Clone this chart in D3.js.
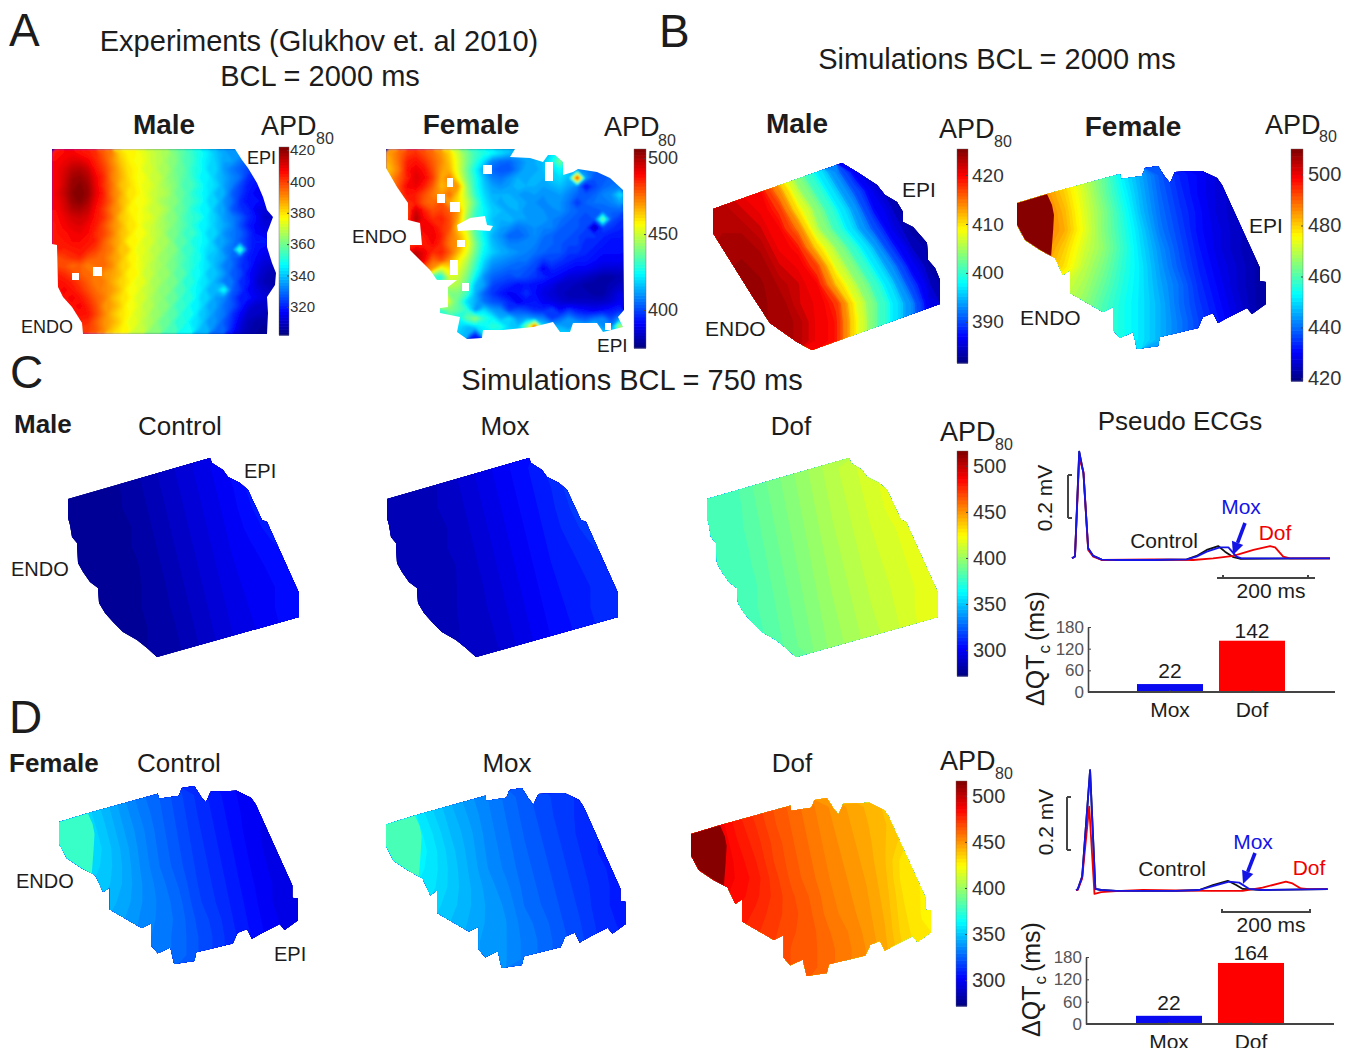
<!DOCTYPE html>
<html><head><meta charset="utf-8">
<script src="https://cdn.jsdelivr.net/npm/d3@7"></script>
<style>html,body{margin:0;padding:0;background:#fff}svg{display:block}text{font-family:"Liberation Sans",Arial,sans-serif;fill:#1c1c1c}</style>
</head><body><svg id="c" width="1351" height="1048"></svg>
<script>
// ---------- DATA: APD80 grids (ms) ----------
const expMale=[
[405,407,408,406,404,402,396,392,382,378,377,374,371,368,366,361,357,353,349,345,340,337,334,336,332,330,330,330],
[407,409,411,411,408,403,398,391,384,379,376,375,370,369,364,362,356,354,348,344,341,336,336,331,327,326,326,326],
[408,411,415,416,413,405,400,393,386,380,378,373,372,367,366,360,358,352,349,343,342,335,331,328,325,322,322,322],
[408,412,418,419,416,408,402,392,387,381,377,376,370,370,364,361,357,353,347,346,340,337,333,330,322,320,318,318],
[407,413,419,421,418,409,401,394,385,382,378,374,373,368,365,362,355,355,350,344,343,336,332,325,320,318,316,316],
[409,414,420,422,419,410,403,393,388,380,379,375,371,369,367,360,358,352,348,345,339,338,328,324,319,316,314,314],
[408,412,419,421,417,408,402,395,386,382,376,376,372,367,364,363,356,354,350,343,342,334,330,322,318,318,316,315],
[407,411,416,417,414,406,400,392,388,379,378,374,370,370,366,359,358,351,347,346,338,336,327,323,321,315,313,313],
[406,409,412,413,411,405,401,394,384,381,377,375,373,368,363,362,355,353,351,344,341,335,332,328,322,318,311,311],
[405,408,410,411,408,404,398,391,387,380,379,373,371,367,365,360,357,352,346,345,340,337,333,326,320,316,313,313],
[405,406,408,409,407,402,399,393,385,382,376,376,370,369,362,361,354,355,349,342,342,334,331,329,323,317,315,315],
[404,405,407,407,405,403,396,390,386,378,378,372,372,366,366,358,358,350,348,345,337,336,332,327,322,319,320,316],
[404,403,404,405,403,400,395,392,384,383,375,374,369,368,363,362,353,353,347,343,341,333,330,358,322,318,316,316],
[398,400,402,403,398,396,394,389,386,379,377,372,371,365,364,359,356,351,349,341,339,336,329,325,320,317,314,314],
[399,398,395,396,392,394,395,391,383,381,376,373,368,367,362,360,354,352,346,344,338,332,330,323,321,315,312,310],
[404,402,399,396,395,393,390,388,385,378,378,371,370,364,365,357,357,349,348,340,340,335,327,326,318,314,310,308],
[406,405,403,400,396,392,392,387,382,380,374,374,367,366,361,361,352,352,345,343,337,331,331,322,320,312,309,307],
[405,408,405,402,398,394,391,389,384,377,376,370,369,363,364,356,355,348,346,339,339,350,328,324,317,314,311,309],
[400,406,408,405,401,396,393,386,381,379,373,372,366,365,359,359,351,351,343,342,335,333,326,320,319,315,313,311],
[396,402,406,408,403,398,390,388,383,376,375,369,368,362,362,354,354,346,345,337,336,330,327,321,314,311,310,310],
[392,398,404,406,405,399,392,385,380,378,372,371,365,364,358,357,349,349,341,339,333,331,323,317,311,310,309,309],
[390,394,400,403,402,396,390,387,382,375,374,368,367,360,360,352,352,344,343,335,334,327,322,314,309,307,306,306],
[390,392,396,400,400,397,391,384,379,377,371,370,363,362,356,355,347,347,339,338,330,329,320,312,308,306,305,305]];
const expFemale=[
[470,476,482,484,480,476,470,462,450,440,432,428,424,420,416,414,414,412,412,420,430,440,415,410,410,410,405,405],
[468,476,486,488,484,478,472,464,452,440,430,420,408,405,404,408,412,414,416,425,440,420,412,410,410,408,405,405],
[466,474,488,492,488,480,470,466,452,438,425,412,404,402,402,408,414,412,416,420,425,418,410,408,405,402,405,405],
[470,478,486,494,490,482,468,474,456,440,428,416,408,406,410,414,412,416,414,418,420,415,490,412,402,402,405,405],
[470,480,490,492,486,478,466,470,470,444,428,418,412,410,412,416,414,414,412,414,416,412,408,392,400,404,406,406],
[472,480,488,486,480,474,470,476,462,446,430,420,414,414,414,412,410,412,410,410,412,408,404,402,404,408,410,420],
[474,478,484,486,478,476,480,468,460,450,436,422,416,412,416,414,412,410,408,412,410,406,398,404,406,406,408,412],
[476,476,480,496,486,480,482,478,470,448,432,424,418,416,412,414,410,412,410,408,410,406,404,402,402,404,404,404],
[478,478,482,500,490,484,486,480,468,444,430,424,416,414,416,412,412,410,412,408,406,404,402,400,402,440,402,398],
[478,478,482,488,492,490,484,480,462,450,434,422,418,412,410,406,408,410,408,408,404,402,402,400,382,400,398,396],
[480,480,482,484,488,492,486,476,468,456,436,424,414,410,404,404,406,410,406,404,402,402,400,398,398,396,394,394],
[480,482,482,484,486,490,484,474,470,458,440,426,416,412,408,408,410,408,404,404,402,400,400,396,396,394,392,392],
[480,484,490,498,492,484,486,478,466,454,438,424,418,414,412,410,408,406,404,402,402,398,398,396,394,392,392,392],
[470,480,490,500,490,476,480,470,458,448,434,420,412,410,408,406,406,402,398,400,398,396,394,394,392,390,390,390],
[450,460,470,484,478,470,452,460,454,444,430,416,408,406,404,404,402,400,390,396,394,392,390,390,388,386,386,386],
[440,445,450,455,470,430,425,452,450,440,424,410,404,402,400,402,400,398,396,392,390,386,386,384,382,380,380,382],
[440,440,440,440,440,440,440,448,446,436,416,412,400,398,396,392,394,392,390,388,384,384,382,380,380,380,382,384],
[440,440,440,440,440,440,462,440,440,432,414,404,398,394,390,392,398,392,388,386,384,382,382,382,380,380,384,388],
[440,440,440,440,440,440,490,448,436,420,414,406,402,400,396,390,392,394,390,388,386,384,384,384,384,384,386,390],
[430,430,430,430,430,430,430,440,436,430,410,420,412,410,398,402,400,396,396,400,392,398,394,392,390,392,394,396],
[430,430,430,430,430,430,432,430,424,436,444,430,424,414,420,410,412,410,408,398,404,410,404,402,406,408,400,410],
[420,420,420,420,420,420,425,424,420,416,420,424,430,428,418,416,440,486,420,415,414,410,418,414,420,410,408,450],
[420,420,420,420,420,420,424,420,418,414,395,420,420,420,420,420,420,420,420,420,420,420,420,420,420,420,420,420]];
const simMale2000=[
[422,421,418,409,403,398,393,387,384,383,382,382],
[422,421,420,414,406,401,396,391,386,384,383,382],
[423,422,421,418,410,404,399,394,388,385,383,382],
[423,423,422,420,415,406,401,396,391,386,384,383],
[424,424,423,421,419,411,405,400,395,389,385,384],
[424,425,424,422,421,417,408,403,398,393,387,384],
[424,425,425,423,422,420,412,406,401,396,390,385],
[424,425,425,424,422,421,418,409,403,398,393,386],
[424,425,425,424,423,421,419,410,403,398,393,387],
[424,425,425,424,423,421,419,410,403,398,393,387]];
const simFemale2000=[
[484,484,478,470,462,452,445,438,433,430,427,425,424],
[486,486,480,472,463,454,446,439,434,430,427,425,424],
[488,488,482,473,465,456,447,440,435,431,427,425,424],
[488,488,483,474,465,457,449,441,436,431,428,425,424],
[486,486,480,472,466,458,450,443,437,432,428,425,423],
[484,484,478,470,464,457,451,444,438,433,429,426,423],
[480,478,472,468,462,456,451,445,440,434,430,426,423],
[476,474,470,466,460,455,451,446,440,435,431,427,423],
[474,470,468,464,459,455,451,446,441,436,432,428,424],
[474,470,468,464,459,455,451,446,441,436,432,428,424]];
const maleControl=[
[277,278,280,283,287,291,295,299,304,309,313,314],
[277,278,279,282,286,290,294,298,302,308,313,314],
[277,278,279,281,285,289,293,297,301,306,311,313],
[277,277,278,280,284,288,292,296,300,304,308,311],
[277,277,278,280,283,287,291,295,299,302,305,308],
[277,277,278,279,282,286,290,294,298,301,303,305],
[277,277,278,279,281,285,289,293,297,300,302,304],
[277,277,278,279,281,284,288,292,296,299,302,304],
[277,277,278,279,280,283,287,291,295,298,301,304],
[277,277,278,279,280,282,286,290,294,297,301,304]];
const maleMox=[
[285,286,288,291,295,299,303,307,312,317,320,321],
[285,286,287,290,294,298,302,306,310,316,320,321],
[285,286,287,289,293,297,301,305,309,314,319,320],
[285,285,286,288,292,296,300,304,308,312,316,318],
[285,285,286,288,291,295,299,303,307,310,313,316],
[285,285,286,287,290,294,298,302,306,309,311,313],
[285,285,286,287,289,293,297,301,305,308,310,312],
[285,285,286,287,289,292,296,300,304,307,310,312],
[285,285,286,287,288,291,295,299,303,306,309,312],
[285,285,286,287,288,290,294,298,302,305,309,312]];
const maleDof=[
[379,383,388,393,398,403,408,412,416,420,423,424],
[379,382,387,392,397,402,407,411,415,419,423,424],
[379,381,386,391,396,401,406,410,414,418,421,423],
[379,381,385,390,395,400,405,409,413,416,419,421],
[379,380,384,389,394,399,404,408,412,415,418,420],
[379,380,383,388,393,398,403,407,411,414,417,419],
[379,380,382,387,392,397,402,406,410,413,416,419],
[379,380,382,386,391,396,401,405,409,412,416,419],
[379,380,381,385,390,395,400,404,408,411,415,419],
[379,380,381,384,389,394,399,403,407,410,415,419]];
const femaleControl=[
[355,352,345,337,330,325,319,313,308,303,300,298,297],
[358,354,347,339,332,326,320,314,309,304,300,298,297],
[360,356,349,341,334,327,321,315,310,305,300,297,296],
[360,357,351,343,335,328,322,316,311,306,301,297,296],
[358,355,351,344,336,329,323,317,312,307,302,298,296],
[356,353,350,344,337,331,325,318,313,308,303,299,296],
[352,350,347,343,337,332,327,319,314,309,304,299,296],
[348,347,345,341,336,332,328,321,316,310,305,300,297],
[345,345,343,340,335,331,328,322,317,311,306,301,298],
[345,345,343,340,335,331,328,322,317,311,306,301,298]];
const femaleMox=[
[362,358,351,344,338,333,328,323,319,316,313,311,310],
[365,361,353,346,340,334,329,324,320,316,313,311,310],
[367,363,356,348,342,335,330,325,321,317,313,310,309],
[367,364,358,350,343,336,331,326,322,318,314,310,309],
[365,362,358,351,344,337,332,327,323,319,315,311,309],
[363,360,357,351,345,339,334,328,324,320,316,312,309],
[359,357,354,350,345,340,336,329,325,321,317,312,309],
[355,354,352,348,344,340,337,331,327,322,318,313,310],
[352,352,350,347,343,339,337,332,328,323,319,314,311],
[352,352,350,347,343,339,337,332,328,323,319,314,311]];
const femaleDof=[
[490,486,478,472,466,461,456,451,447,443,439,437,436],
[492,488,480,474,467,462,457,452,448,444,440,437,436],
[494,490,482,476,469,463,458,453,449,445,440,434,430],
[494,491,484,478,470,464,459,454,450,446,440,430,428],
[492,489,485,480,472,465,460,455,451,447,441,430,428],
[490,487,484,479,473,467,462,456,452,448,442,432,428],
[486,484,481,477,472,468,463,457,453,449,443,433,428],
[482,481,479,475,471,467,464,459,455,450,444,434,429],
[479,479,477,474,470,466,464,460,456,451,445,436,430],
[479,479,477,474,470,466,464,460,456,451,445,436,430]];
// Tissue outlines and gaps (tissue units)
const shapeExpMale=[[52,149],[235,149],[242,160],[248,168],[257,183],[263,197],[267,210],[273,217],[267,233],[267,247],[272,263],[276,273],[275,285],[267,297],[268,313],[267,334],[83,334],[82,323],[72,307],[63,297],[58,287],[57,245],[52,244]];
const gapsExpMale=[[[72,273],[79,273],[79,280],[72,280]],[[93,267],[102,267],[102,276],[93,276]]];
const shapeExpFemale=[[386,149],[515,149],[510,157],[530,158],[543,162],[548,155],[555,155],[563,162],[563,175],[573,172],[578,169],[597,172],[610,178],[623,190],[624,310],[618,317],[623,327],[603,332],[597,323],[573,323],[570,332],[560,332],[553,322],[533,327],[503,330],[483,330],[482,338],[467,339],[457,332],[460,317],[440,313],[440,308],[448,307],[448,287],[457,280],[437,280],[430,270],[410,250],[410,245],[422,245],[420,223],[408,220],[408,203],[397,187],[386,168]];
const gapsExpFemale=[[[483,165],[492,165],[492,174],[483,174]],[[545,162],[553,162],[553,181],[545,181]],[[447,178],[453,178],[453,187],[447,187]],[[437,194],[445,194],[445,203],[437,203]],[[450,202],[460,202],[460,212],[450,212]],[[457,225],[470,218],[485,216],[487,225],[493,226],[490,231],[475,230],[458,231]],[[457,240],[465,240],[465,247],[457,247]],[[450,260],[458,260],[458,275],[450,275]],[[462,283],[469,283],[469,291],[462,291]],[[605,323],[611,323],[611,330],[605,330]]];
const shapeSimMale=[[713,209],[842,163],[857,172],[877,185],[885,195],[897,202],[903,212],[903,222],[913,227],[927,243],[928,260],[935,268],[940,280],[940,304],[812,350],[797,342],[780,330],[770,323],[753,297],[713,233]];
const shapeMale750=[[68,499],[210,458],[212,463],[223,470],[228,477],[240,483],[248,490],[262,520],[267,522],[299,593],[299,617],[157,657],[147,648],[137,640],[123,632],[113,622],[105,613],[99,603],[98,588],[90,582],[83,572],[78,563],[77,543],[72,537],[70,525],[68,518]];
const shapeFemale=[[1017,203],[1047,194],[1120,174],[1121,179],[1142,176],[1145,168],[1158,166],[1165,177],[1170,183],[1175,172],[1202,171],[1217,178],[1222,185],[1260,268],[1260,281],[1266,282],[1266,304],[1252,314],[1247,308],[1227,318],[1218,323],[1213,313],[1203,317],[1198,328],[1160,337],[1158,346],[1137,349],[1133,332],[1120,338],[1113,330],[1113,307],[1103,312],[1070,293],[1070,270],[1063,275],[1055,258],[1040,250],[1025,240],[1017,225]];
const patchFemale=[[1017,203],[1047,194],[1052,205],[1054,215],[1053,232],[1051,258],[1040,250],[1025,240],[1017,225]];
// Pseudo ECG traces: time (ms), voltage (mV)
const ecgMaleTime=[0,7,17,27,38,50,70,113,191,270,293,317,348,368,387,399,607];
const ecgMaleMox=[0,.008,.496,.395,.047,.011,-.006,-.008,-.008,-.005,.008,.031,.051,.051,.008,0,0];
const ecgMaleCtlTime=[0,7,17,27,38,50,70,113,191,270,293,317,344,360,380,395,607];
const ecgMaleCtl=[0,.008,.496,.395,.047,.011,-.006,-.008,-.008,-.005,.011,.039,.057,.031,.005,-.002,0];
const ecgMaleDofTime=[0,7,17,27,38,50,70,191,285,332,380,427,466,478,497,513,607];
const ecgMaleDof=[0,.008,.465,.403,.039,.008,-.008,-.005,-.008,0,.011,.039,.057,.051,.008,0,0];
const ecgFemaleTime=[0,4,14,32,44,57,91,227,280,311,348,371,394,424,572];
const ecgFemaleMox=[0,.003,.051,.456,.004,0,-.003,-.003,0,.015,.032,.028,.004,0,.003];
const ecgFemaleCtlTime=[0,4,14,32,44,57,91,227,280,311,345,364,379,424,572];
const ecgFemaleCtl=[0,.003,.051,.456,.004,0,-.003,-.003,0,.019,.035,.019,.004,0,.003];
const ecgFemaleDofTime=[0,4,14,30,42,57,91,152,303,379,424,477,492,511,530,572];
const ecgFemaleDof=[0,0,.044,.317,-.015,-.008,-.004,0,-.003,-.003,.009,.032,.025,.006,.003,.003];
// QTc bars
const drugs=["Mox","Dof"];
const dqtMale=[22,142];
const dqtFemale=[22,164];
const dqtTicks=[0,60,120,180];

// ---------- RENDER ----------
const svg=d3.select("#c");
const defs=svg.append("defs");
defs.append("filter").attr("id","soft").attr("x","-5%").attr("y","-5%").attr("width","110%").attr("height","110%")
  .append("feGaussianBlur").attr("stdDeviation",1.1);
const jet=d3.scaleLinear().domain([0,.125,.375,.625,.875,1]).range(["#00007f","#0000ff","#00ffff","#ffff00","#ff0000","#7f0000"]).clamp(true);
const LEVELS=64;
let clipId=0;
function heat(grid,shape,box,dom,opts={}){
  const n=grid[0].length,m=grid.length;
  grid.forEach((r,i)=>{if(r.length!==n)throw new Error("row "+i+" has "+r.length+" of "+n)});
  const [x0,x1,y0,y1]=box;
  const sx=d3.scaleLinear().domain(d3.extent(shape,p=>p[0])).range([x0,x1]);
  const sy=d3.scaleLinear().domain(d3.extent(shape,p=>p[1])).range([y0,y1]);
  const line=d3.line().x(p=>sx(p[0])).y(p=>sy(p[1])).curve(d3.curveLinearClosed);
  const id="clip"+(clipId++);
  defs.append("clipPath").attr("id",id).append("path")
    .attr("clip-rule","evenodd")
    .attr("d",[shape,...(opts.gaps||[])].map(line).join(""));
  const gx=d3.scaleLinear().domain([0,n]).range([x0,x1]);
  const gy=d3.scaleLinear().domain([0,m]).range([y0,y1]);
  const step=(dom[1]-dom[0])/LEVELS;
  const col=v=>jet((Math.min(Math.floor((v-dom[0])/step),LEVELS-1)+.5)/LEVELS);
  const thresholds=d3.range(LEVELS).map(i=>dom[0]+i*step);
  const cs=d3.contours().size([n,m]).thresholds(thresholds)(grid.flat()).filter(c=>c.coordinates.length);
  const path=d3.geoPath(d3.geoTransform({point(x,y){this.stream.point(gx(x),gy(y));}}));
  const outer=svg.append("g").attr("clip-path",`url(#${id})`);
  const g=outer.append("g");
  if(opts.soft)g.attr("filter","url(#soft)");
  g.append("rect").attr("x",x0-4).attr("y",y0-4).attr("width",x1-x0+8).attr("height",y1-y0+8).attr("fill",col(cs.length?cs[0].value:dom[0]));
  g.selectAll("path").data(cs).join("path").attr("d",path).attr("fill",d=>col(d.value));
  if(opts.patch)outer.append("path").attr("d",line(opts.patch.shape)).attr("fill",col(opts.patch.value));
}
function colorbar(x0,x1,y0,y1,dom,ticks,size,gap){
  const y=d3.scaleLinear().domain(dom).range([y1,y0]);
  const step=(dom[1]-dom[0])/LEVELS;
  const g=svg.append("g");
  g.selectAll("rect").data(d3.range(LEVELS)).join("rect")
    .attr("x",x0).attr("width",x1-x0)
    .attr("y",i=>y(dom[0]+(i+1)*step)).attr("height",i=>y(dom[0]+i*step)-y(dom[0]+(i+1)*step)+.6)
    .attr("fill",i=>jet((i+.5)/LEVELS));
  const ax=svg.append("g").attr("transform",`translate(${x1},0)`)
    .call(d3.axisRight(y).tickValues(ticks).tickSizeInner(-2).tickSizeOuter(0).tickPadding(gap));
  ax.select(".domain").remove();
  ax.selectAll(".tick line").attr("stroke","#444");
  ax.selectAll("text").attr("font-size",size).style("font-family",'"Liberation Sans",Arial,sans-serif').style("fill","#333");
  g.append("rect").attr("x",x0).attr("y",y0).attr("width",x1-x0).attr("height",y1-y0).attr("fill","none").attr("stroke","#666").attr("stroke-width",.4);
}
function txt(s,x,y,size,o={}){
  return svg.append("text").attr("x",x).attr("y",y).attr("font-size",size).attr("text-anchor",o.a||"start")
    .attr("font-weight",o.b?"bold":"normal").style("fill",o.c||"#1c1c1c").text(s);
}
function apd(x,y,subx,suby,size=27){txt("APD",x,y,size);txt("80",subx,suby,16).style("fill","#333");}

// Panel letters and titles
txt("A",9,46,46);txt("B",659,47,46);txt("C",10,388,46);txt("D",9,733,46);
txt("Experiments (Glukhov et. al 2010)",319,51,29,{a:"middle"});
txt("BCL = 2000 ms",320,86,29,{a:"middle"});
txt("Simulations BCL = 2000 ms",997,69,29,{a:"middle"});
txt("Simulations BCL = 750 ms",632,390,29,{a:"middle"});

// A
heat(expMale,shapeExpMale,[52,276,149,334],[302,422],{gaps:gapsExpMale,soft:true});
heat(expFemale,shapeExpFemale,[386,624,149,339],[375,506],{gaps:gapsExpFemale,soft:true});
txt("Male",164,134,28,{a:"middle",b:true});apd(261,135,316,144);
txt("Female",471,134,28,{a:"middle",b:true});apd(604,136,658,146);
colorbar(279,289,147,335,[302,422],[320,340,360,380,400,420],15,1);
colorbar(634,646,149,348,[375,506],[400,450,500],18,2);
txt("EPI",247,164,18);txt("ENDO",21,333,18);txt("ENDO",352,243,19);txt("EPI",597,352,19);

// B
heat(simMale2000,shapeSimMale,[713,940,163,350],[381.6,425.3]);
heat(simFemale2000,shapeFemale,[1017,1266,166,349],[419,510],{patch:{shape:patchFemale,value:510}});
txt("Male",797,133,28,{a:"middle",b:true});apd(939,138,994,147);
txt("Female",1133,136,28,{a:"middle",b:true});apd(1265,134,1319,142);
colorbar(957,968,149,363,[381.6,425.3],[390,400,410,420],19,4);
colorbar(1291,1303,149,381,[419,510],[420,440,460,480,500],20,5);
txt("EPI",902,197,21);txt("ENDO",705,336,21);txt("EPI",1249,233,21);txt("ENDO",1020,325,21);

// C
const dom750=[272,516];
heat(maleControl,shapeMale750,[68,299,458,657],dom750);
heat(maleMox,shapeMale750,[387,618,458,657],dom750);
heat(maleDof,shapeMale750,[707,938,458,657],dom750);
txt("Male",14,433,26,{b:true});
txt("Control",180,435,26,{a:"middle"});txt("Mox",505,435,26,{a:"middle"});txt("Dof",791,435,26,{a:"middle"});
apd(940,441,995,450);
colorbar(957,968,451,676,dom750,[300,350,400,450,500],20,5);
txt("EPI",244,478,20);txt("ENDO",11,576,20);
txt("Pseudo ECGs",1180,430,26,{a:"middle"});

// D
heat(femaleControl,shapeFemale,[59,298,786,964],dom750,{patch:{shape:patchFemale,value:377}});
heat(femaleMox,shapeFemale,[386,626,788,968],dom750,{patch:{shape:patchFemale,value:379}});
heat(femaleDof,shapeFemale,[691,931,798,976],dom750,{patch:{shape:patchFemale,value:516}});
txt("Female",9,772,26,{b:true});
txt("Control",179,772,26,{a:"middle"});txt("Mox",507,772,26,{a:"middle"});txt("Dof",792,772,26,{a:"middle"});
apd(940,770,995,779);
colorbar(956,967,781,1006,dom750,[300,350,400,450,500],20,5);
txt("ENDO",16,888,20);txt("EPI",274,961,20);

// ECGs
function ecg(cfg){
  const x=d3.scaleLinear().domain([0,100]).range([cfg.x0,cfg.x0+cfg.pxPerMs*100]);
  const y=d3.scaleLinear().domain([0,.1]).range([cfg.y0,cfg.y0-cfg.pxPerMv*.1]);
  const line=d3.line().x(d=>x(d[0])).y(d=>y(d[1]));
  [[cfg.ctlT,cfg.ctl,"#111"],[cfg.dofT,cfg.dof,"#f00000"],[cfg.moxT,cfg.mox,"#1414e6"]].forEach(([t,v,c])=>{
    svg.append("path").datum(t.map((d,i)=>[d,v[i]])).attr("d",line).attr("fill","none").attr("stroke",c).attr("stroke-width",1.8).attr("stroke-linejoin","round");
  });
  // scale bars
  const [vx,vy0,vy1]=cfg.vbar,[hx0,hx1,hy]=cfg.hbar;
  const sb=svg.append("g").attr("stroke","#444").attr("fill","none");
  sb.append("path").attr("stroke-width",2).attr("d",`M${vx},${vy0}V${vy1}M${vx},${vy0}h4M${vx},${vy1}h4`);
  sb.append("path").attr("stroke-width",2).attr("d",`M${hx0},${hy}H${hx1}M${cfg.htick[0]},${hy}v-3M${cfg.htick[1]},${hy}v-3`);
  svg.append("text").attr("transform",`translate(${cfg.mvLabel[0]},${cfg.mvLabel[1]}) rotate(-90)`).attr("text-anchor","middle").attr("font-size",21).text("0.2 mV");
  txt("200 ms",cfg.msLabel[0],cfg.msLabel[1],21,{a:"middle"});
  txt("Control",cfg.ctlLabel[0],cfg.ctlLabel[1],21,{a:"middle"});
  txt("Mox",cfg.moxLabel[0],cfg.moxLabel[1],21,{a:"middle",c:"#1414e6"});
  txt("Dof",cfg.dofLabel[0],cfg.dofLabel[1],21,{a:"middle",c:"#f00000"});
  const [ax,ay,bx,by]=cfg.arrow,ang=Math.atan2(by-ay,bx-ax),L=13,W=6;
  const mx=bx-L*Math.cos(ang),my=by-L*Math.sin(ang);
  svg.append("path").attr("d",`M${ax},${ay}L${mx},${my}`).attr("stroke","#1414e6").attr("stroke-width",3.6);
  svg.append("path").attr("fill","#1414e6").attr("d",`M${bx},${by}L${mx-W*Math.sin(ang)},${my+W*Math.cos(ang)}L${mx+W*Math.sin(ang)},${my-W*Math.cos(ang)}Z`);
}
ecg({x0:1072,y0:558.3,pxPerMs:.425,pxPerMv:215,ctlT:ecgMaleCtlTime,ctl:ecgMaleCtl,moxT:ecgMaleTime,mox:ecgMaleMox,dofT:ecgMaleDofTime,dof:ecgMaleDof,
  vbar:[1068,475,518],hbar:[1217,1315,578],htick:[1223,1308],mvLabel:[1052,498],msLabel:[1271,598],ctlLabel:[1164,548],moxLabel:[1241,514],dofLabel:[1275,540],arrow:[1245,523,1233,555]});
ecg({x0:1076,y0:890,pxPerMs:.44,pxPerMv:263,ctlT:ecgFemaleCtlTime,ctl:ecgFemaleCtl,moxT:ecgFemaleTime,mox:ecgFemaleMox,dofT:ecgFemaleDofTime,dof:ecgFemaleDof,
  vbar:[1067,797,850],hbar:[1221,1311,912],htick:[1222,1310],mvLabel:[1053,822],msLabel:[1271,932],ctlLabel:[1172,876],moxLabel:[1253,849],dofLabel:[1309,875],arrow:[1255,853,1243,884]});

// Bars
function bars(cfg){
  const x=d3.scaleBand().domain(drugs).range(cfg.xr).paddingInner(.195);
  const y=d3.scaleLinear().domain([0,180]).range([cfg.y0,cfg.y1]);
  const g=svg.append("g");
  g.selectAll("rect").data(drugs).join("rect").attr("x",d=>x(d)).attr("width",x.bandwidth())
    .attr("y",(d,i)=>y(cfg.vals[i])).attr("height",(d,i)=>y(0)-y(cfg.vals[i]))
    .attr("fill",(d,i)=>i?"#fe0000":"#0a0af0");
  drugs.forEach((d,i)=>txt(cfg.vals[i],x(d)+x.bandwidth()/2,y(cfg.vals[i])-cfg.labGap[i],21,{a:"middle"}));
  const ya=svg.append("g").attr("transform",`translate(${cfg.axX},0)`).call(d3.axisLeft(y).tickValues(dqtTicks).tickSizeInner(-3).tickSizeOuter(0).tickPadding(4));
  ya.select(".domain").attr("stroke","#444").attr("stroke-width",1.6);
  ya.selectAll(".tick line").attr("stroke","#444");
  ya.selectAll("text").attr("font-size",17).style("font-family",'"Liberation Sans",Arial,sans-serif').style("fill","#555");
  const xa=svg.append("g").attr("transform",`translate(0,${cfg.y0})`).call(d3.axisBottom(x).tickSizeInner(-2).tickSizeOuter(0).tickPadding(10));
  xa.select(".domain").remove();
  xa.selectAll(".tick line").attr("stroke","#444");
  xa.selectAll("text").attr("font-size",21).style("font-family",'"Liberation Sans",Arial,sans-serif').style("fill","#1c1c1c");
  svg.append("line").attr("x1",cfg.axX).attr("x2",cfg.axR).attr("y1",cfg.y0).attr("y2",cfg.y0).attr("stroke","#444").attr("stroke-width",1.8);
  const t=svg.append("text").attr("transform",`translate(${cfg.yl[0]},${cfg.yl[1]}) rotate(-90)`).attr("font-size",25);
  t.append("tspan").text("ΔQT");
  t.append("tspan").attr("font-size",17).attr("dy",6).attr("dx",1).text("c");
  t.append("tspan").attr("dy",-6).attr("dx",4).text("(ms)");
}
bars({xr:[1137,1285],y0:692,y1:627,vals:dqtMale,axX:1088,axR:1335,labGap:[6,3],yl:[1044,706]});
bars({xr:[1136,1284],y0:1024,y1:957,vals:dqtFemale,axX:1086,axR:1334,labGap:[6,3],yl:[1040,1037]});
</script></body></html>
